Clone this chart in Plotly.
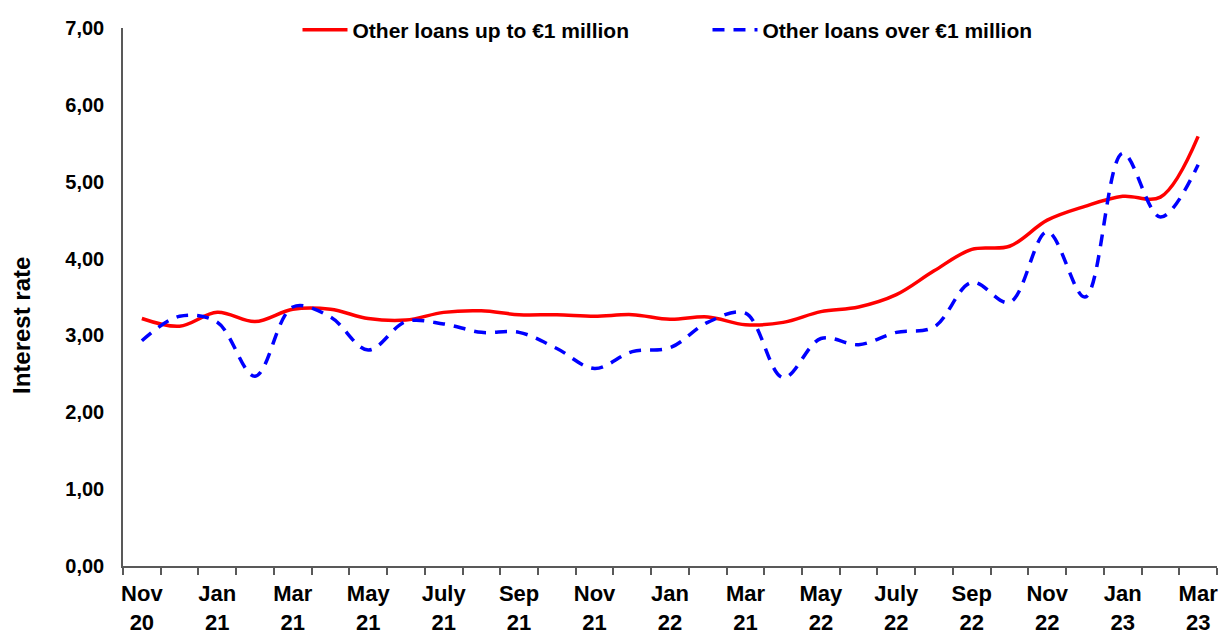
import plotly.graph_objects as go

months = ["Nov 20", "Dec 20", "Jan 21", "Feb 21", "Mar 21", "Apr 21", "May 21", "Jun 21",
          "Jul 21", "Aug 21", "Sep 21", "Oct 21", "Nov 21", "Dec 21", "Jan 22", "Feb 22",
          "Mar 22", "Apr 22", "May 22", "Jun 22", "Jul 22", "Aug 22", "Sep 22", "Oct 22",
          "Nov 22", "Dec 22", "Jan 23", "Feb 23", "Mar 23"]

up_to_1m = [3.22, 3.12, 3.30, 3.18, 3.34, 3.34, 3.22, 3.20, 3.30, 3.32, 3.27, 3.27, 3.25, 3.27,
            3.21, 3.24, 3.14, 3.17, 3.31, 3.37, 3.53, 3.84, 4.12, 4.16, 4.50, 4.68, 4.81, 4.80,
            5.59]

over_1m = [2.93, 3.25, 3.17, 2.47, 3.37, 3.24, 2.81, 3.18, 3.15, 3.04, 3.04, 2.83, 2.57, 2.79,
           2.84, 3.17, 3.29, 2.45, 2.96, 2.88, 3.04, 3.11, 3.69, 3.43, 4.35, 3.50, 5.37, 4.54,
           5.22]

tick_labels = ["Nov<br>20", "Jan<br>21", "Mar<br>21", "May<br>21", "July<br>21", "Sep<br>21",
               "Nov<br>21", "Jan<br>22", "Mar<br>21", "May<br>22", "July<br>22", "Sep<br>22",
               "Nov<br>22", "Jan<br>23", "Mar<br>23"]

series_names = ["Other loans up to €1 million", "Other loans over €1 million"]

x = list(range(len(months)))
FONT = "Liberation Sans, Arial, sans-serif"

fig = go.Figure()
fig.add_trace(go.Scatter(x=x, y=up_to_1m, mode="lines", name=series_names[0],
                         line=dict(color="#FF0000", width=3.5, shape="spline")))
fig.add_trace(go.Scatter(x=x, y=over_1m, mode="lines", name=series_names[1],
                         line=dict(color="#0000FF", width=3.5, shape="spline", dash="12px,9px")))

fig.update_layout(
    width=1221, height=634,
    margin=dict(l=123, r=4, t=28, b=68, autoexpand=False),
    paper_bgcolor="white", plot_bgcolor="white",
    separators=",.",
    font=dict(family=FONT, color="black"),
    showlegend=True,
    legend=dict(orientation="h", x=0.1595, xanchor="left", y=0.9963, yanchor="middle",
                font=dict(size=21, weight="bold", family=FONT),
                itemwidth=45, entrywidth=350, bgcolor="rgba(0,0,0,0)", traceorder="normal"),
    xaxis=dict(range=[-0.5, len(months) - 0.5], tickmode="array", automargin=False,
               tickvals=x[::2], ticktext=tick_labels, ticks="", showgrid=False,
               showline=True, linecolor="#595959", linewidth=1.5, zeroline=False,
               ticklabelstandoff=7,
               tickfont=dict(size=22, weight="bold", family=FONT),
               minor=dict(tickmode="array",
                          tickvals=[i - 0.5 for i in range(len(months) + 1)],
                          ticks="outside", ticklen=7, tickwidth=1.5, tickcolor="#595959",
                          showgrid=False)),
    yaxis=dict(range=[0, 7], dtick=1, tick0=0, tickformat=".2f", showgrid=False,
               automargin=False,
               showline=True, linecolor="#595959", linewidth=1.5, zeroline=False,
               ticks="", ticklabelstandoff=13,
               tickfont=dict(size=20, weight="bold", family=FONT)),
    annotations=[dict(text="Interest rate", textangle=-90, xref="paper", yref="paper",
                      x=(21 - 123) / 1094, y=(566 - 326) / 538, xanchor="center",
                      yanchor="middle", showarrow=False,
                      font=dict(size=24, weight="bold", family=FONT, color="black"))],
)

fig.write_html("out.html", config={"displayModeBar": False},
               post_script="document.body.style.margin='0';document.body.style.overflow='hidden';")
